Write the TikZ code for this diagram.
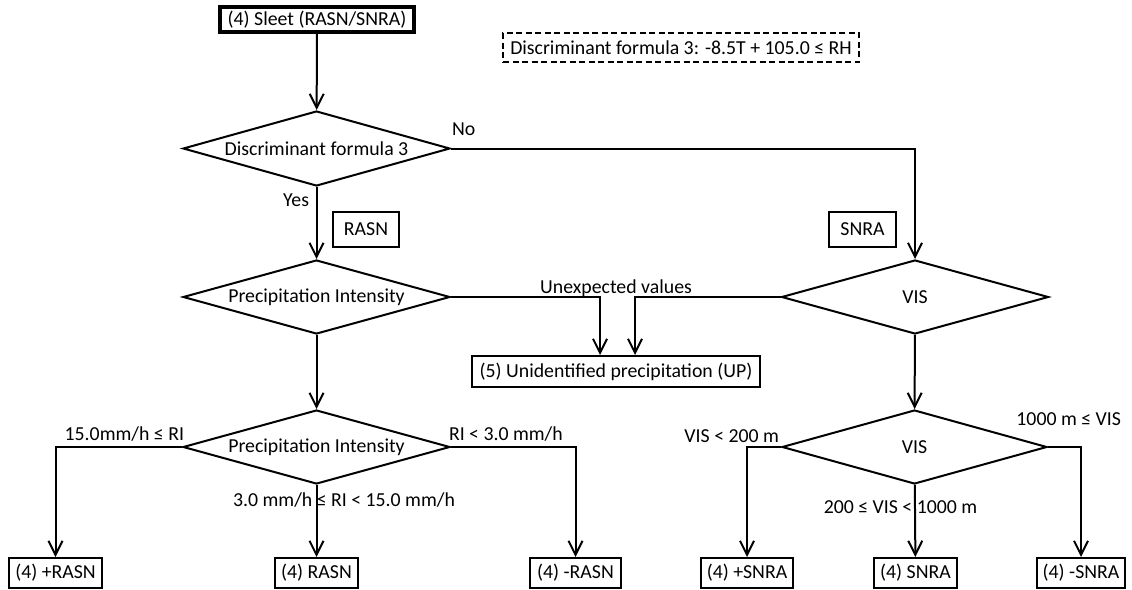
\documentclass[tikz,border=0pt]{standalone}
\usepackage{fontspec}
\setmainfont{Carlito}
\usetikzlibrary{shapes.geometric,arrows.meta}

\begin{document}
\begin{tikzpicture}
[x=1pt, y=1pt, font=\fontsize{19.8}{23}\selectfont, line width=2pt,
       result/.style={draw, rectangle, inner sep=0pt, minimum height=30pt},
       tag/.style={draw, rectangle, inner sep=0pt, minimum width=66pt, minimum height=35pt},
       decision/.style={draw, diamond, aspect=3.6, inner sep=0pt,
                        minimum width=267pt, minimum height=74pt},
       cond/.style={inner sep=0pt},
       flow/.style={-{Straight Barb[length=14pt,width=14pt]}}]
  \useasboundingbox (0,0) rectangle (1132,-589);
  % start and formula
  \node[result, line width=3.4pt, minimum width=194pt, minimum height=25pt] (sleet) at (317,-19.5) {(4) Sleet (RASN/SNRA)};
  \node[draw, dash pattern=on 6pt off 3.5pt, line width=1.1pt, inner sep=0pt,
        minimum width=356pt, minimum height=29pt] (formula) at (681,-47.5) {Discriminant formula 3: -8.5T + 105.0 ≤ RH};
  % decisions
  \node[decision, minimum height=75pt] (disc) at (316.5,-148.5) {Discriminant formula 3};
  \node[decision] (intens) at (316.5,-297) {Precipitation Intensity};
  \node[decision] (vis) at (915,-297) {VIS};
  \node[decision] (intensB) at (316.5,-447) {Precipitation Intensity};
  \node[decision, minimum width=265pt] (visB) at (914.5,-447) {VIS};
  \node[tag] (tagRASN) at (366,-229.5) {RASN};
  \node[tag, minimum width=67pt] (tagSNRA) at (862.5,-229.5) {SNRA};
  \node[result, minimum width=288pt, minimum height=31pt] (up) at (616,-371.5) {(5) Unidentified precipitation (UP)};
  % results
  \node[result, minimum width=93pt] (plusRASN) at (55.5,-573) {(4) +RASN};
  \node[result, minimum width=83pt] (RASN) at (316.5,-573) {(4) RASN};
  \node[result, minimum width=91pt] (minusRASN) at (575.5,-573) {(4) -RASN};
  \node[result, minimum width=92pt] (plusSNRA) at (747,-573) {(4) +SNRA};
  \node[result, minimum width=83pt] (SNRA) at (915.5,-573) {(4) SNRA};
  \node[result, minimum width=88pt] (minusSNRA) at (1081,-573) {(4) -SNRA};
  % condition labels
  \node[cond, anchor=base west] (no) at (451,-135) {No};
  \node[cond, anchor=base east] (yes) at (310,-206) {Yes};
  \node[cond, anchor=base] (unexp) at (616,-293) {Unexpected values};
  \node[cond, anchor=base east] (riHigh) at (185,-440) {15.0mm/h ≤ RI};
  \node[cond, anchor=base west] (riLow) at (448,-440) {RI < 3.0 mm/h};
  \node[cond, anchor=base] (riMid) at (344,-506) {3.0 mm/h ≤ RI < 15.0 mm/h};
  \node[cond, anchor=base east] (visLow) at (780,-442) {VIS < 200 m};
  \node[cond, anchor=base east] (visHigh) at (1122,-425) {1000 m ≤ VIS};
  \node[cond, anchor=base] (visMid) at (900.5,-513) {200 ≤ VIS < 1000 m};
  % connectors
  \draw[flow] (sleet) -- (disc);
  \draw[flow] (disc.east) -| (vis.north);
  \draw[flow] (disc) -- (intens);
  \draw[flow] (intens.east) -| ([xshift=-16pt]up.north);
  \draw[flow] (vis.west) -| ([xshift=19pt]up.north);
  \draw[flow] (intens) -- (intensB);
  \draw[flow] (vis) -- (visB);
  \draw[flow] (intensB.west) -| (plusRASN.north);
  \draw[flow] (intensB) -- (RASN);
  \draw[flow] (intensB.east) -| (minusRASN.north);
  \draw[flow] (visB.west) -| (plusSNRA.north);
  \draw[flow] (visB) -- (SNRA);
  \draw[flow] (visB.east) -| (minusSNRA.north);
\end{tikzpicture}
\end{document}
